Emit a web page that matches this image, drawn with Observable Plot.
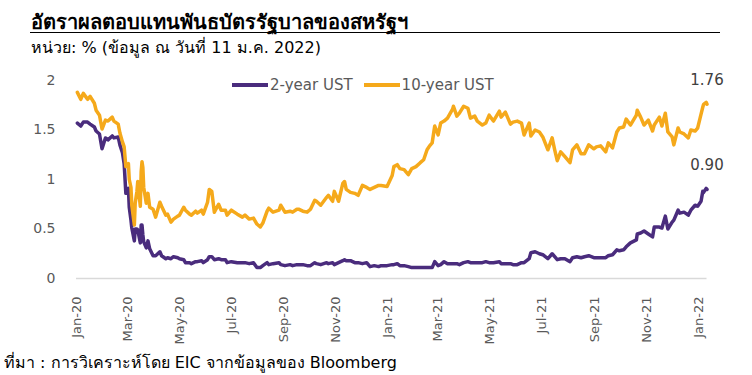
<!DOCTYPE html>
<html>
<head>
<meta charset="utf-8">
<script src="https://cdn.jsdelivr.net/npm/d3@7"></script>
<script src="https://cdn.jsdelivr.net/npm/@observablehq/plot@0.6"></script>
<style>
  html, body { margin: 0; padding: 0; background: #fff; }
  #wrap { position: relative; width: 752px; height: 375px; overflow: hidden; font-family: Tahoma, "DejaVu Sans", sans-serif; }
  #title { position: absolute; left: 31px; top: 6px; font-size: 20px; font-weight: bold; color: #000; }
  #rule { position: absolute; left: 30px; top: 32px; width: 690px; height: 0; border-top: 1.5px solid #000; }
  #subtitle { position: absolute; left: 31px; top: 35px; font-size: 16px; color: #000; }
  #legend { position: absolute; left: 232px; top: 76px; font-size: 15px; color: #595959; display: flex; align-items: center; }
  #legend .sw { display: inline-block; width: 36px; height: 3.5px; margin-right: 2px; }
  #legend .it { display: flex; align-items: center; margin-right: 11px; }
  #chart { position: absolute; left: 0; top: 60px; }
  #caption { position: absolute; left: 4px; top: 350px; font-size: 16px; color: #000; }
</style>
</head>
<body>
<div id="wrap">
  <div id="title"></div>
  <div id="rule"></div>
  <div id="subtitle"></div>
  <div id="legend"></div>
  <div id="chart"></div>
  <div id="caption"></div>
</div>
<script>
const titleText = "อัตราผลตอบแทนพันธบัตรรัฐบาลของสหรัฐฯ";
const subtitleText = "หน่วย: % (ข้อมูล ณ วันที่ 11 ม.ค. 2022)";
const captionText = "ที่มา : การวิเคราะห์โดย EIC จากข้อมูลของ Bloomberg";
const seriesNames = ["2-year UST", "10-year UST"];
const seriesColors = ["#4a2c7d", "#f5a91b"];

const dates = [
"2020-01-02","2020-01-06","2020-01-09","2020-01-14","2020-01-17","2020-01-22","2020-01-24","2020-01-28","2020-01-31",
"2020-02-04","2020-02-07","2020-02-12","2020-02-14","2020-02-19","2020-02-21","2020-02-24","2020-02-26","2020-02-28",
"2020-03-02","2020-03-03","2020-03-05","2020-03-06","2020-03-09","2020-03-10","2020-03-11","2020-03-12","2020-03-13",
"2020-03-16","2020-03-17","2020-03-18","2020-03-19","2020-03-20","2020-03-23","2020-03-25","2020-03-27","2020-03-31",
"2020-04-03","2020-04-08","2020-04-10","2020-04-15","2020-04-17","2020-04-21","2020-04-24","2020-04-29",
"2020-05-01","2020-05-06","2020-05-08","2020-05-13","2020-05-15","2020-05-20","2020-05-22","2020-05-27","2020-05-29",
"2020-06-03","2020-06-05","2020-06-08","2020-06-11","2020-06-16","2020-06-19","2020-06-24","2020-06-26",
"2020-07-01","2020-07-08","2020-07-14","2020-07-17","2020-07-22","2020-07-27","2020-07-31",
"2020-08-04","2020-08-07","2020-08-12","2020-08-14","2020-08-19","2020-08-26","2020-08-28",
"2020-09-02","2020-09-08","2020-09-11","2020-09-16","2020-09-18","2020-09-23","2020-09-28",
"2020-10-02","2020-10-07","2020-10-09","2020-10-14","2020-10-21","2020-10-23","2020-10-28","2020-10-30",
"2020-11-04","2020-11-09","2020-11-11","2020-11-13","2020-11-18","2020-11-23","2020-11-27",
"2020-12-02","2020-12-07","2020-12-11","2020-12-16","2020-12-21","2020-12-24","2020-12-31",
"2021-01-06","2021-01-08","2021-01-12","2021-01-15","2021-01-20","2021-01-25","2021-01-29",
"2021-02-03","2021-02-08","2021-02-12","2021-02-16","2021-02-19","2021-02-22","2021-02-25",
"2021-03-01","2021-03-04","2021-03-08","2021-03-12","2021-03-18","2021-03-19","2021-03-23","2021-03-26","2021-03-31",
"2021-04-05","2021-04-08","2021-04-13","2021-04-16","2021-04-22","2021-04-26","2021-04-30",
"2021-05-05","2021-05-12","2021-05-14","2021-05-19","2021-05-25","2021-05-28",
"2021-06-02","2021-06-07","2021-06-10","2021-06-16","2021-06-18","2021-06-23","2021-06-28",
"2021-07-02","2021-07-08","2021-07-13","2021-07-16","2021-07-19","2021-07-23","2021-07-28",
"2021-08-03","2021-08-06","2021-08-11","2021-08-16","2021-08-20","2021-08-25","2021-08-31",
"2021-09-03","2021-09-08","2021-09-14","2021-09-17","2021-09-22","2021-09-27","2021-09-30",
"2021-10-05","2021-10-08","2021-10-13","2021-10-20","2021-10-21","2021-10-25","2021-10-29",
"2021-11-03","2021-11-08","2021-11-10","2021-11-16","2021-11-19","2021-11-23","2021-11-26",
"2021-12-01","2021-12-03","2021-12-08","2021-12-10","2021-12-15","2021-12-20","2021-12-23","2021-12-28","2021-12-31",
"2022-01-04","2022-01-06","2022-01-07","2022-01-10","2022-01-11"
];

const ust2y = [
1.57,1.54,1.58,1.58,1.56,1.53,1.49,1.46,1.31,
1.42,1.40,1.44,1.42,1.43,1.35,1.27,1.16,0.86,
0.91,0.72,0.59,0.51,0.38,0.50,0.50,0.50,0.49,
0.36,0.54,0.54,0.44,0.37,0.31,0.38,0.30,0.23,
0.23,0.27,0.23,0.20,0.21,0.20,0.22,0.21,
0.20,0.19,0.16,0.16,0.15,0.17,0.17,0.18,0.16,
0.19,0.22,0.22,0.19,0.20,0.19,0.19,0.16,
0.17,0.16,0.16,0.16,0.15,0.16,0.11,
0.11,0.13,0.16,0.14,0.15,0.16,0.14,
0.13,0.14,0.13,0.14,0.14,0.14,0.13,
0.13,0.16,0.15,0.14,0.16,0.15,0.16,0.14,
0.16,0.18,0.19,0.18,0.18,0.16,0.16,
0.15,0.16,0.12,0.13,0.12,0.13,0.13,
0.14,0.14,0.15,0.13,0.13,0.12,0.11,
0.11,0.11,0.11,0.11,0.11,0.11,0.17,
0.13,0.14,0.17,0.15,0.15,0.15,0.15,0.14,0.16,
0.17,0.16,0.16,0.16,0.16,0.17,0.16,
0.16,0.17,0.15,0.15,0.15,0.14,
0.14,0.16,0.16,0.20,0.26,0.27,0.25,
0.24,0.20,0.25,0.22,0.19,0.20,0.20,
0.17,0.21,0.22,0.21,0.22,0.23,0.21,
0.21,0.21,0.21,0.23,0.24,0.29,0.28,
0.29,0.32,0.36,0.39,0.45,0.46,0.48,
0.45,0.42,0.52,0.52,0.51,0.63,0.50,
0.57,0.59,0.69,0.66,0.67,0.64,0.69,0.74,0.73,
0.78,0.88,0.87,0.91,0.90
];

const ust10y = [
1.88,1.81,1.87,1.81,1.84,1.77,1.70,1.65,1.51,
1.60,1.59,1.63,1.59,1.56,1.47,1.38,1.33,1.13,
1.16,1.00,0.92,0.74,0.54,0.76,0.82,0.88,0.98,
0.73,1.08,1.18,1.12,0.92,0.76,0.86,0.72,0.70,
0.62,0.77,0.73,0.64,0.65,0.57,0.60,0.63,
0.64,0.72,0.69,0.65,0.64,0.68,0.66,0.69,0.65,
0.77,0.90,0.88,0.67,0.75,0.69,0.69,0.64,
0.69,0.65,0.62,0.64,0.60,0.61,0.55,
0.52,0.56,0.68,0.71,0.67,0.69,0.74,
0.67,0.68,0.67,0.70,0.70,0.68,0.67,
0.70,0.79,0.78,0.74,0.82,0.84,0.78,0.88,
0.78,0.96,0.98,0.90,0.87,0.86,0.84,
0.94,0.92,0.90,0.92,0.94,0.94,0.93,
1.04,1.13,1.15,1.11,1.10,1.05,1.11,
1.13,1.17,1.20,1.30,1.34,1.37,1.54,
1.45,1.57,1.59,1.62,1.71,1.74,1.64,1.67,1.74,
1.72,1.62,1.64,1.59,1.55,1.57,1.65,
1.59,1.69,1.63,1.68,1.56,1.58,
1.59,1.57,1.45,1.57,1.44,1.50,1.48,
1.43,1.30,1.42,1.30,1.19,1.28,1.23,
1.17,1.30,1.35,1.26,1.26,1.35,1.31,
1.33,1.34,1.28,1.37,1.32,1.48,1.52,
1.53,1.61,1.55,1.65,1.70,1.63,1.55,
1.60,1.49,1.55,1.63,1.54,1.67,1.48,
1.43,1.35,1.52,1.48,1.46,1.42,1.50,1.49,1.52,
1.66,1.73,1.76,1.78,1.76
];

const xTicks = ["2020-01-01","2020-03-01","2020-05-01","2020-07-01","2020-09-01","2020-11-01",
  "2021-01-01","2021-03-01","2021-05-01","2021-07-01","2021-09-01","2021-11-01","2022-01-01"];
const yTicks = [0, 0.5, 1, 1.5, 2];
const endLabels = ["0.90", "1.76"];

const parse = d3.utcParse("%Y-%m-%d");
const rows = [];
dates.forEach((d, i) => {
  rows.push({date: parse(d), value: ust2y[i], series: seriesNames[0]});
  rows.push({date: parse(d), value: ust10y[i], series: seriesNames[1]});
});
const lastDate = parse(dates[dates.length - 1]);
const ends = [
  {date: lastDate, value: ust2y[ust2y.length - 1], label: endLabels[0]},
  {date: lastDate, value: ust10y[ust10y.length - 1], label: endLabels[1]}
];

document.getElementById("title").textContent = titleText;
document.getElementById("subtitle").textContent = subtitleText;
document.getElementById("caption").textContent = captionText;
const leg = document.getElementById("legend");
seriesNames.forEach((n, i) => {
  const it = document.createElement("span");
  it.className = "it";
  const sw = document.createElement("span");
  sw.className = "sw";
  sw.style.background = seriesColors[i];
  it.appendChild(sw);
  it.appendChild(document.createTextNode(n));
  leg.appendChild(it);
});

const chart = Plot.plot({
  width: 752,
  height: 300,
  marginTop: 20,
  marginBottom: 82,
  marginLeft: 76,
  marginRight: 54,
  style: {fontFamily: 'Tahoma, "DejaVu Sans", sans-serif', fontSize: "14px", color: "#595959", background: "transparent"},
  x: {type: "utc", domain: [parse(xTicks[0]), parse(xTicks[xTicks.length - 1])], label: null},
  y: {domain: [0, 2], label: null},
  color: {domain: seriesNames, range: seriesColors},
  marks: [
    Plot.ruleY([0], {x1: parse(xTicks[0]), x2: lastDate, stroke: "#d9d9d9", strokeWidth: 1.5}),
    Plot.axisY(yTicks, {label: null, tickSize: 0, tickPadding: 21, tickFormat: d => String(d), fill: "#595959", fontSize: 14}),
    Plot.axisX(xTicks.map(parse), {label: null, tickSize: 0, tickPadding: 18, tickRotate: -90, tickFormat: d3.utcFormat("%b-%y"), fill: "#595959", fontSize: 13}),
    Plot.line(rows, {x: "date", y: "value", z: "series", stroke: "series", strokeWidth: 3.5, curve: "linear"}),
    Plot.text(ends, {x: "date", y: "value", text: "label", dy: -24, fill: "#404040", fontSize: 15})
  ]
});
document.getElementById("chart").appendChild(chart);
</script>
</body>
</html>
